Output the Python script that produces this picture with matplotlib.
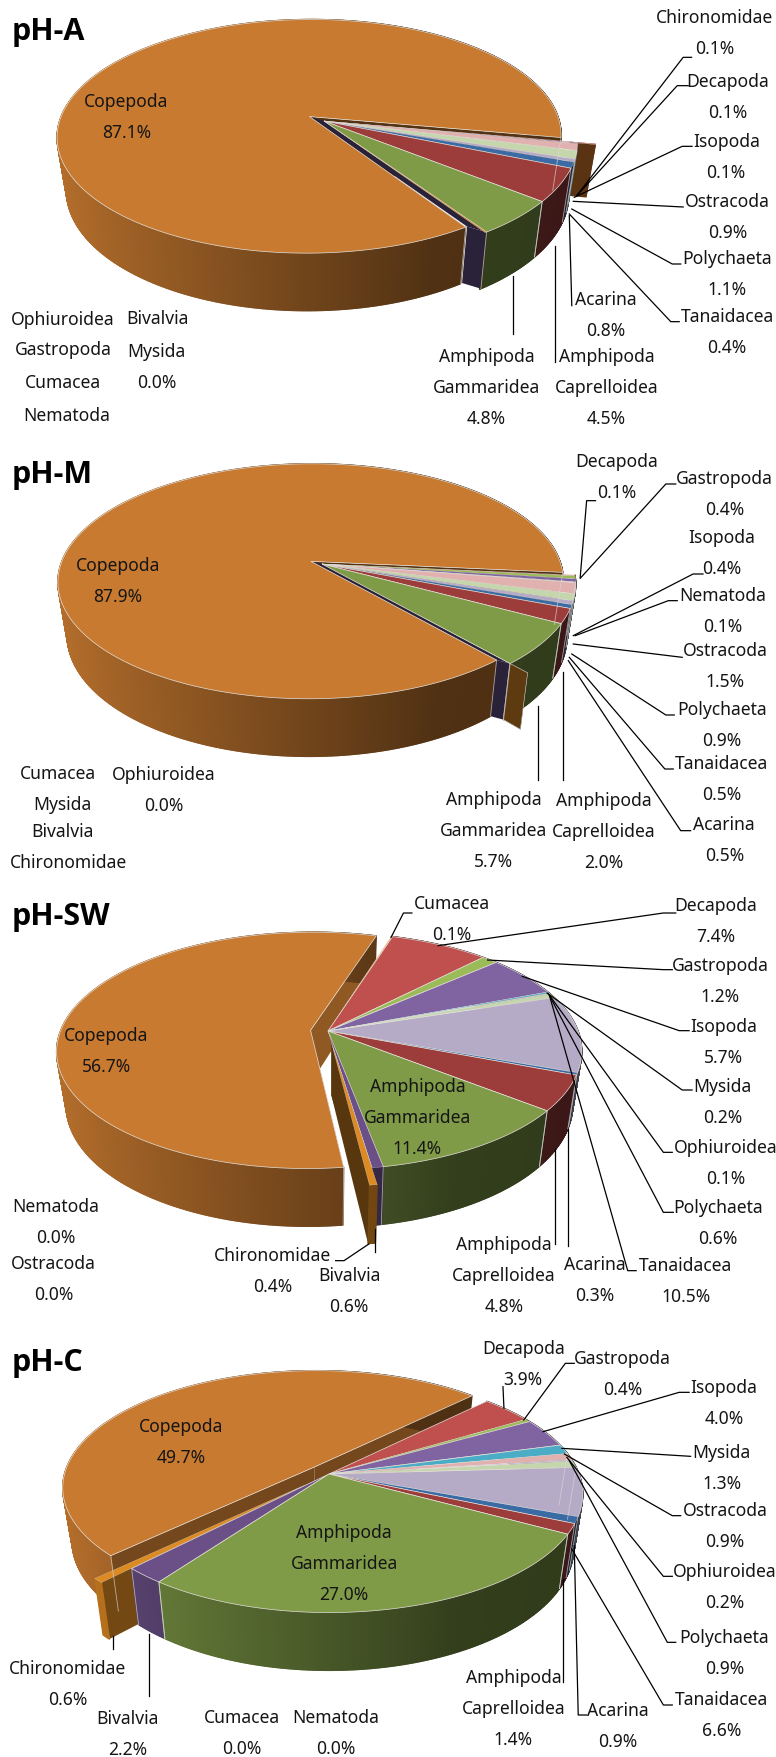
import numpy as np
import matplotlib
matplotlib.use('Agg')
import matplotlib.pyplot as plt
from matplotlib.patches import Polygon
from matplotlib.collections import PolyCollection

plt.rcParams['font.family'] = ['Noto Sans', 'DejaVu Sans']

# counter-clockwise order round the pies
species = ['Chironomidae', 'Bivalvia', 'Amphipoda\nGammaridea', 'Amphipoda\nCaprelloidea', 'Acarina',
           'Tanaidacea', 'Polychaeta', 'Ophiuroidea', 'Ostracoda', 'Mysida', 'Nematoda',
           'Isopoda', 'Gastropoda', 'Decapoda', 'Cumacea', 'Copepoda']
ph_a = [0.1, 0.0, 4.8, 4.5, 0.8, 0.4, 1.1, 0.0, 0.9, 0.0, 0.0, 0.1, 0.0, 0.1, 0.0, 87.1]
ph_m = [0.0, 0.0, 5.7, 2.0, 0.5, 0.5, 0.9, 0.0, 1.5, 0.0, 0.1, 0.4, 0.4, 0.1, 0.0, 87.9]
ph_sw = [0.4, 0.6, 11.4, 4.8, 0.3, 10.5, 0.6, 0.1, 0.0, 0.2, 0.0, 5.7, 1.2, 7.4, 0.1, 56.7]
ph_c = [0.6, 2.2, 27.0, 1.4, 0.9, 6.6, 0.9, 0.2, 0.9, 1.3, 0.0, 4.0, 0.4, 3.9, 0.0, 49.7]
colors = ['#DE8A22', '#6B5087', '#7F9B47', '#9C3D3C', '#3B6BA5', '#B5ABC6', '#C6D6AC', '#CCC1DA',
          '#E0B1AF', '#4BACC6', '#A6A6A6', '#8064A2', '#9BBB59', '#C0504D', '#F79646', '#C87A30']

# zoom crops were read at 2.02 / 3 per pixel
ZX = 1 / 2.02
ZY = 1 / 3
R, RK, P, S, D = 250, 115, 0.17, 0.965, 52
LINE = 31

A = dict(title='pH-A', values=ph_a, y0=0, cx=324, cy=122, start=-56.4, title_y=95,
         explode={'Copepoda': .07, 'Decapoda': .07}, shade={'Copepoda': .42},
         wall_color={'Decapoda': '#5A3312'}, stub={'Decapoda': .9}, gap='#2A2238',
         labels={'Chironomidae': (1443, 55), 'Decapoda': (1470, 245), 'Isopoda': (1467, 425),
                 'Ostracoda': (1470, 607), 'Polychaeta': (1468, 778), 'Tanaidacea': (1469, 952),
                 'Acarina': (1223, 900), 'Amphipoda\nCaprelloidea': (1225, 1072),
                 'Amphipoda\nGammaridea': (983, 1072), 'Copepoda': (255, 307)},
         zeros=[(127, 960, 'Ophiuroidea'), (127, 1050, 'Gastropoda'), (127, 1150, 'Cumacea'), (135, 1248, 'Nematoda'),
                (318, 958, 'Bivalvia'), (316, 1055, 'Mysida'), (316, 1150, '0.0%')],
         leaders=[[(1397, 175), (1380, 175), (1165, 590)], [(1390, 260), (1368, 260), (1165, 590)],
                  [(1398, 442), (1378, 442), (1160, 595)], [(1380, 624), (1158, 607)],
                  [(1375, 795), (1358, 795), (1155, 630)], [(1372, 968), (1355, 968), (1150, 645)],
                  [(1155, 920), (1150, 650)], [(1122, 1090), (1122, 740)], [(1037, 1005), (1037, 830)]])

M = dict(title='pH-M', values=ph_m, y0=440, cx=322, cy=565, start=-49.0, title_y=105,
         explode={'Copepoda': .05, 'Chironomidae': .08}, shade={'Copepoda': .42},
         wall_color={'Chironomidae': '#5E3A10'}, stub={'Chironomidae': .92}, gap='#2A2238',
         labels={'Decapoda': (1245, 67), 'Gastropoda': (1463, 118), 'Isopoda': (1458, 295), 'Nematoda': (1460, 468),
                 'Ostracoda': (1465, 633), 'Polychaeta': (1458, 810), 'Tanaidacea': (1458, 972),
                 'Acarina': (1463, 1155), 'Amphipoda\nGammaridea': (997, 1080),
                 'Amphipoda\nCaprelloidea': (1220, 1083), 'Copepoda': (238, 378)},
         zeros=[(118, 1003, 'Cumacea'), (125, 1095, 'Mysida'), (127, 1175, 'Bivalvia'), (138, 1268, 'Chironomidae'),
                (330, 1005, 'Ophiuroidea'), (330, 1098, '0.0%')],
         leaders=[[(1203, 185), (1185, 185), (1172, 415)], [(1365, 135), (1345, 135), (1172, 418)],
                  [(1420, 405), (1400, 405), (1158, 590)], [(1368, 485), (1350, 485), (1162, 590)],
                  [(1378, 655), (1158, 615)], [(1362, 828), (1345, 828), (1155, 645)],
                  [(1360, 990), (1343, 990), (1150, 655)], [(1395, 1175), (1375, 1175), (1148, 665)],
                  [(1086, 1022), (1086, 800)], [(1138, 1022), (1138, 700)]])

SW = dict(title='pH-SW', values=ph_sw, y0=880, cx=328, cy=1032, start=-83.0, title_y=112,
          explode={'Copepoda': .07, 'Chironomidae': .1}, shade={'Copepoda': .72, 'Chironomidae': .4},
          wall_color={}, stub={}, gap=None,
          labels={'Cumacea': (912, 73), 'Decapoda': (1445, 77), 'Gastropoda': (1455, 257), 'Isopoda': (1462, 440),
                  'Mysida': (1460, 620), 'Ophiuroidea': (1466, 805), 'Polychaeta': (1450, 985),
                  'Tanaidacea': (1385, 1158), 'Acarina': (1202, 1155), 'Amphipoda\nCaprelloidea': (1018, 1095),
                  'Bivalvia': (705, 1188), 'Chironomidae': (550, 1128), 'Copepoda': (215, 468),
                  'Amphipoda\nGammaridea': (843, 622)},
          zeros=[(113, 982, 'Nematoda'), (113, 1075, '0.0%'), (108, 1153, 'Ostracoda'), (108, 1246, '0.0%')],
          leaders=[[(832, 102), (815, 102), (790, 175)], [(1365, 102), (1340, 102), (885, 200)],
                   [(1358, 272), (1340, 272), (985, 243)], [(1392, 455), (1372, 455), (1055, 292)],
                   [(1398, 633), (1378, 633), (1105, 342)], [(1358, 820), (1340, 820), (1108, 345)],
                   [(1360, 1000), (1340, 1000), (1110, 350)], [(1285, 1175), (1268, 1175), (1110, 350)],
                   [(1148, 1100), (1148, 750)], [(1122, 1095), (1122, 810)], [(757, 1120), (757, 1050)],
                   [(678, 1145), (695, 1145), (745, 1095)]])

C = dict(title='pH-C', values=ph_c, y0=1320, cx=329, cy=1475, start=-136.0, title_y=128,
         explode={'Copepoda': .085, 'Chironomidae': .13}, shade={'Copepoda': .58, 'Chironomidae': .52},
         wall_color={}, stub={}, gap=None,
         labels={'Decapoda': (1057, 88), 'Gastropoda': (1258, 118), 'Isopoda': (1462, 205), 'Mysida': (1458, 400),
                 'Ostracoda': (1465, 574), 'Ophiuroidea': (1463, 757), 'Polychaeta': (1463, 955),
                 'Tanaidacea': (1458, 1140), 'Acarina': (1248, 1172), 'Amphipoda\nCaprelloidea': (1037, 1075),
                 'Chironomidae': (137, 1047), 'Bivalvia': (258, 1197), 'Copepoda': (365, 322),
                 'Amphipoda\nGammaridea': (695, 640)},
         zeros=[(488, 1195, 'Cumacea'), (488, 1288, '0.0%'), (678, 1195, 'Nematoda'), (678, 1288, '0.0%')],
         leaders=[[(1016, 203), (1018, 268)], [(1160, 133), (1142, 133), (1058, 303)],
                  [(1392, 220), (1372, 220), (1097, 338)], [(1395, 412), (1135, 388)],
                  [(1375, 590), (1358, 590), (1140, 405)], [(1358, 772), (1340, 772), (1145, 415)],
                  [(1365, 970), (1348, 970), (1150, 425)], [(1358, 1158), (1340, 1158), (1155, 690)],
                  [(1185, 1188), (1168, 1188), (1160, 680)], [(1138, 1090), (1138, 780)],
                  [(228, 990), (228, 950)], [(301, 1130), (301, 945)]])


def project(p, u, v, h):
    # perspective squash of the unit circle, h=0 top face, h=1 bottom face
    s = 1 - (1 - S) * h
    w = 1 + P * np.asarray(v)
    return p['cx'] + s * R * np.asarray(u) / w, p['cy'] - s * RK * np.asarray(v) / w + h * D / w


def scaled(color, f):
    rgb = np.array(matplotlib.colors.to_rgb(color))
    return tuple(rgb * f)


def draw_panel(ax, p):
    vals = np.array(p['values'])
    edges = p['start'] + np.concatenate([[0], np.cumsum(vals)]) * 3.6
    mids = (edges[:-1] + edges[1:]) / 2
    order = np.argsort(-np.sin(np.radians(mids)))
    tops = []
    for i in order:
        name = species[i]
        e = p['explode'].get(name, 0)
        if vals[i] == 0 and e == 0:
            continue
        ex = e * np.cos(np.radians(mids[i]))
        ey = e * np.sin(np.radians(mids[i]))
        ang = np.radians(np.linspace(edges[i], edges[i + 1], max(3, int(vals[i] * 3.6 * 3) + 2)))
        us = ex + np.cos(ang)
        vs = ey + np.sin(ang)
        # cut walls first, only pulled-out slices show them
        wc = p['wall_color'].get(name) or scaled(colors[i], p['shade'].get(name, .42))
        r0 = p['stub'].get(name, 0)
        if e > 0:
            for k in (0, -1):
                u0, v0 = ex + r0 * np.cos(ang[k]), ey + r0 * np.sin(ang[k])
                x0, y0 = project(p, u0, v0, 0)
                x1, y1 = project(p, us[k], vs[k], 0)
                x2, y2 = project(p, us[k], vs[k], 1)
                x3, y3 = project(p, u0, v0, 1)
                ax.add_patch(Polygon([(x0, y0), (x1, y1), (x2, y2), (x3, y3)], fc=wc, ec='none'))
        quads = []
        cols = []
        for a in range(len(ang) - 1):
            x0, y0 = project(p, us[a], vs[a], 0)
            x1, y1 = project(p, us[a + 1], vs[a + 1], 0)
            x2, y2 = project(p, us[a + 1], vs[a + 1], 1)
            x3, y3 = project(p, us[a], vs[a], 1)
            quads.append([(x0, y0), (x1, y1), (x2, y2), (x3, y3)])
            cols.append(scaled(colors[i], np.interp(np.cos((ang[a] + ang[a + 1]) / 2), [-1, .45, 1], [.92, .4, .38])))
        if name not in p['wall_color']:
            ax.add_collection(PolyCollection(quads, facecolors=cols, edgecolors=cols, linewidths=1.0))
        for k in (0, -1):
            if np.sin(ang[k]) < .2 and vals[i] > 1:
                xa, ya = project(p, us[k], vs[k], 0)
                xb, yb = project(p, us[k], vs[k], 1)
                ax.plot([xa, xb], [ya, yb], color='#D8D8D8', lw=.6, alpha=.7)
        x, y = project(p, np.r_[ex, us], np.r_[ey, vs], 0)
        tops.append((np.column_stack([x, y]), colors[i], vals[i]))

    # the strip seen between Copepoda and the next slice
    if p['gap']:
        i = species.index('Copepoda')
        e = p['explode']['Copepoda']
        ex = e * np.cos(np.radians(mids[i]))
        ey = e * np.sin(np.radians(mids[i]))
        a = np.radians(p['start'] + (vals[:2].sum() * 3.6))
        cu0, cv0 = ex + np.cos(np.radians(p['start'])), ey + np.sin(np.radians(p['start']))
        cu1, cv1 = np.cos(a), np.sin(a)
        pts = [project(p, cu0, cv0, 0), project(p, cu1, cv1, 0), project(p, cu1, cv1, 1), project(p, cu0, cv0, 1)]
        ax.add_patch(Polygon(pts, fc=p['gap'], ec='none'))
        ax.add_patch(Polygon([project(p, ex, ey, 0), project(p, cu0, cv0, 0), project(p, cu1, cv1, 0),
                              project(p, 0, 0, 0)], fc=p['gap'], ec='none'))

    for xy, col, v in tops:
        if v > 0:
            ax.add_patch(Polygon(xy, fc=col, ec='#E4E0DA', lw=.5 if v > 1 else .2))

    # the stub wall stands in front of the slice next to it
    for name, col in p['wall_color'].items():
        i = species.index(name)
        if name == 'Chironomidae':
            e = p['explode'][name]
            a = np.radians(edges[i])
            u1, v1 = (1 + e) * np.cos(a), (1 + e) * np.sin(a)
            u0, v0 = (.99 + e * .1) * np.cos(a), (.99 + e * .1) * np.sin(a)
            ax.add_patch(Polygon([project(p, u0, v0, 0), project(p, u1, v1, 0), project(p, u1, v1, 1),
                                  project(p, u0, v0, 1)], fc=col, ec='#D8D8D8', lw=.4))

    for line in p['leaders']:
        ax.plot([q[0] * ZX for q in line], [p['y0'] + q[1] * ZY for q in line], color='black', lw=.9)

    for name, (zx, zy) in p['labels'].items():
        val = vals[species.index(name)]
        for k, txt in enumerate(name.split('\n') + [f'{val:.1f}%']):
            ax.text(zx * ZX, p['y0'] + zy * ZY + k * LINE, txt, ha='center', va='center',
                    fontsize=12.6, color='#151515')
    for zx, zy, txt in p['zeros']:
        ax.text(zx * ZX, p['y0'] + zy * ZY, txt, ha='center', va='center', fontsize=12.6, color='#151515')
    ax.text(12, p['y0'] + p['title_y'] * ZY, p['title'], ha='left', va='center', fontsize=22,
            fontweight='bold', family=['Open Sans', 'DejaVu Sans'], color='black')


fig = plt.figure(figsize=(7.76, 17.58), dpi=100)
ax = fig.add_axes([0, 0, 1, 1])
ax.set_xlim(0, 776)
ax.set_ylim(1758, 0)
ax.axis('off')
for panel in (A, M, SW, C):
    draw_panel(ax, panel)
fig.savefig('out.png', dpi=100)
